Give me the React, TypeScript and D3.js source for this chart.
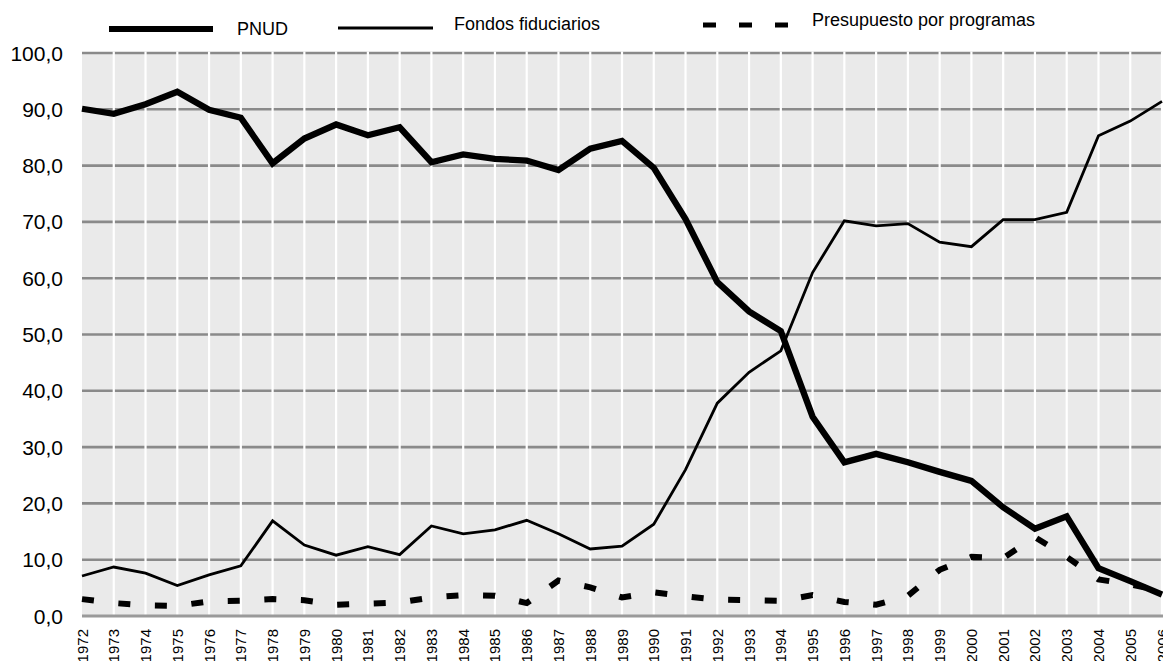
import React from "react";
import * as d3 from "d3";

const years = ["1972","1973","1974","1975","1976","1977","1978","1979","1980","1981","1982","1983","1984","1985","1986","1987","1988","1989","1990","1991","1992","1993","1994","1995","1996","1997","1998","1999","2000","2001","2002","2003","2004","2005","2006"];

const pnud = [90.1, 89.2, 90.9, 93.1, 89.9, 88.5, 80.4, 84.8, 87.3, 85.4, 86.8, 80.6, 82.0, 81.2, 80.9, 79.2, 83.0, 84.4, 79.6, 70.5, 59.3, 54.1, 50.6, 35.4, 27.3, 28.8, 27.3, 25.6, 24.0, 19.3, 15.5, 17.7, 8.5, 6.2, 3.8];
const fondos = [7.1, 8.7, 7.6, 5.4, 7.3, 8.9, 16.9, 12.6, 10.8, 12.3, 10.9, 16.0, 14.6, 15.3, 17.0, 14.6, 11.9, 12.4, 16.3, 26.0, 37.8, 43.3, 47.1, 61.0, 70.2, 69.3, 69.7, 66.4, 65.6, 70.4, 70.4, 71.7, 85.3, 87.9, 91.4];
const presupuesto = [3.0, 2.3, 1.9, 1.8, 2.6, 2.7, 3.0, 2.8, 2.0, 2.2, 2.4, 3.3, 3.7, 3.6, 2.3, 6.3, 5.1, 3.3, 4.2, 3.5, 2.9, 2.8, 2.7, 3.7, 2.5, 2.0, 3.6, 8.2, 10.5, 10.3, 14.0, 10.5, 6.5, 5.6, 4.4];

const yTicks = [0, 10, 20, 30, 40, 50, 60, 70, 80, 90, 100];
const legendLabels = ["PNUD", "Fondos fiduciarios", "Presupuesto por programas"];

const FONT = "Arial, 'Liberation Sans', sans-serif";

export default function App() {
  const W = 1163, H = 661;
  const x = d3.scalePoint<string>().domain(years).range([82, 1162]);
  const y = d3.scaleLinear().domain([0, 100]).range([616, 53]);
  const line = (vals: number[]) =>
    d3.line<number>().x((_, i) => x(years[i]) as number).y((v) => y(v))(vals) as string;
  const fmt = (v: number) => v.toFixed(1).replace(".", ",");

  return (
    <svg width={W} height={H} style={{ position: "absolute", left: 0, top: 0, background: "#fff" }}>
      <rect x={82} y={y(100)} width={1162 - 82} height={y(0) - y(100)} fill="#eaeaea" />
      {yTicks.filter((t) => t > 0).map((t) => (
        <line key={"h" + t} x1={82} x2={1162} y1={y(t)} y2={y(t)} stroke="#8a8a8a" strokeWidth={2.6} />
      ))}
      {years.slice(1).map((yr) => (
        <line key={"v" + yr} x1={x(yr)} x2={x(yr)} y1={y(100) - 1.5} y2={y(0)} stroke="#ffffff" strokeWidth={2.2} />
      ))}
      <line x1={82} x2={1163} y1={y(0)} y2={y(0)} stroke="#9a9a9a" strokeWidth={3} />
      {yTicks.map((t) => (
        <text key={"yl" + t} x={63} y={y(t) + 7.5} textAnchor="end" fontFamily={FONT} fontSize={21} fill="#000">
          {fmt(t)}
        </text>
      ))}
      {years.map((yr) => (
        <text
          key={"xl" + yr}
          transform={`translate(${(x(yr) as number) + 5.5},629) rotate(-90)`}
          textAnchor="end"
          fontFamily={FONT}
          fontSize={15}
          fill="#000"
        >
          {yr}
        </text>
      ))}
      <path d={line(fondos)} fill="none" stroke="#000" strokeWidth={2.8} />
      <path d={line(presupuesto)} fill="none" stroke="#000" strokeWidth={6} strokeDasharray="12,24.6" />
      <path d={line(pnud)} fill="none" stroke="#000" strokeWidth={6.3} />

      {/* legend */}
      <line x1={109} x2={213} y1={29} y2={29} stroke="#000" strokeWidth={6} />
      <text x={237} y={34.5} fontFamily={FONT} fontSize={18} fill="#000">{legendLabels[0]}</text>
      <line x1={338} x2={433} y1={28} y2={28} stroke="#000" strokeWidth={2.8} />
      <text x={454} y={30} fontFamily={FONT} fontSize={18} fill="#000">{legendLabels[1]}</text>
      <line x1={703} x2={790} y1={25} y2={25} stroke="#000" strokeWidth={5} strokeDasharray="13,23" />
      <text x={812} y={26} fontFamily={FONT} fontSize={18} fill="#000">{legendLabels[2]}</text>
    </svg>
  );
}
